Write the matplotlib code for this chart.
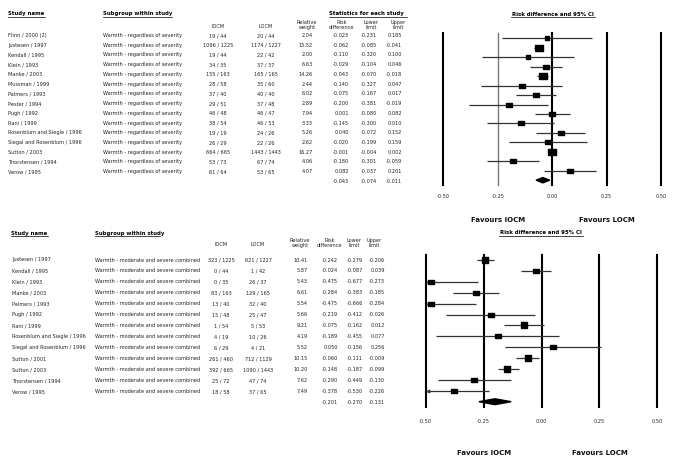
import matplotlib.pyplot as plt
import numpy as np

W, H = 685, 463

# Panel 1: warmth - regardless of severity
top_names = ["Flinn / 2000 (2)", "Justesen / 1997", "Kendall / 1995", "Klein / 1993",
             "Manke / 2003", "Mussman / 1999", "Palmers / 1993", "Pester / 1994",
             "Pugh / 1992", "Rani / 1999", "Rosenblum and Siegle / 1996",
             "Siegal and Rosenblum / 1996", "Sutton / 2003", "Thorstensen / 1994",
             "Verow / 1995"]
top_group = "Warmth - regardless of severity"
top_iocm = ["19 / 44", "1096 / 1225", "19 / 44", "34 / 35", "155 / 163", "28 / 58",
            "37 / 40", "29 / 51", "46 / 48", "38 / 54", "19 / 19", "26 / 29",
            "664 / 665", "53 / 73", "61 / 64"]
top_locm = ["20 / 44", "1174 / 1227", "22 / 42", "37 / 37", "165 / 165", "35 / 60",
            "40 / 40", "37 / 48", "46 / 47", "46 / 53", "24 / 26", "22 / 26",
            "1443 / 1443", "67 / 74", "53 / 65"]
top_weight = [2.04, 15.52, 2.00, 6.63, 14.26, 2.44, 6.02, 2.89, 7.94, 3.33, 5.26, 2.62,
              16.27, 4.06, 4.07]
top_rd = [-0.023, -0.062, -0.110, -0.029, -0.043, -0.140, -0.075, -0.200, 0.001,
          -0.145, 0.040, -0.020, -0.001, -0.180, 0.082]
top_lower = [-0.231, -0.085, -0.320, -0.104, -0.070, -0.327, -0.167, -0.381, -0.080,
             -0.300, -0.072, -0.199, -0.004, -0.301, -0.037]
top_upper = [0.185, -0.041, 0.100, 0.046, -0.018, 0.047, 0.017, -0.019, 0.082,
             0.010, 0.152, 0.159, 0.002, -0.059, 0.201]
top_summary = [-0.043, -0.074, -0.011]

# Panel 2: warmth - moderate and severe combined
bot_names = ["Justesen / 1997", "Kendall / 1995", "Klein / 1993", "Manke / 2003",
             "Palmers / 1993", "Pugh / 1992", "Rani / 1999",
             "Rosenblum and Siegle / 1996", "Siegal and Rosenblum / 1996",
             "Sutton / 2001", "Sutton / 2003", "Thorstensen / 1994", "Verow / 1995"]
bot_group = "Warmth - moderate and severe combined"
bot_iocm = ["323 / 1225", "0 / 44", "0 / 35", "83 / 163", "13 / 40", "15 / 48", "1 / 54",
            "4 / 19", "6 / 29", "261 / 460", "392 / 665", "25 / 72", "18 / 58"]
bot_locm = ["621 / 1227", "1 / 42", "26 / 37", "129 / 165", "32 / 40", "25 / 47", "5 / 53",
            "10 / 26", "4 / 21", "712 / 1129", "1090 / 1443", "47 / 74", "37 / 65"]
bot_weight = [10.41, 5.87, 5.43, 6.61, 5.54, 5.66, 9.21, 4.19, 5.52, 10.15, 10.20, 7.62, 7.49]
bot_rd = [-0.242, -0.024, -0.475, -0.284, -0.475, -0.219, -0.075, -0.189, 0.050,
          -0.060, -0.148, -0.290, -0.378]
bot_lower = [-0.279, -0.087, -0.677, -0.383, -0.666, -0.412, -0.162, -0.455, -0.156,
             -0.111, -0.187, -0.449, -0.530]
bot_upper = [-0.206, 0.039, -0.273, -0.185, -0.284, -0.026, 0.012, 0.077, 0.256,
             -0.009, -0.099, -0.130, -0.226]
bot_summary = [-0.201, -0.270, -0.131]

ticks = [-0.5, -0.25, 0.0, 0.25, 0.5]
tick_labels = ["-0.50", "-0.25", "0.00", "0.25", "0.50"]

fig = plt.figure(figsize=(W / 100, H / 100), dpi=100)
canvas = fig.add_axes([0, 0, 1, 1])
canvas.set_xlim(0, W)
canvas.set_ylim(H, 0)
canvas.axis("off")

FS = 3.6
TXT = "#222222"
rect = [(-1.25, -1), (1.25, -1), (1.25, 1), (-1.25, 1), (-1.25, -1)]


def px_axes(x0, x1, y0, y1):
    return fig.add_axes([x0 / W, 1 - y1 / H, (x1 - x0) / W, (y1 - y0) / H])


def underline_text(x, y, s, x2):
    canvas.text(x, y, s, fontsize=FS + 0.3, fontweight="bold", va="center", ha="left")
    canvas.plot([x, x2], [y + 3, y + 3], color="black", lw=0.5)


def table(names, group, iocm, locm, weight, rd, lo, hi, summ, cfg):
    y0, dy = cfg["row0"], cfg["dy"]
    hy = cfg["head"]
    cx = cfg["cols"]
    kw = dict(fontsize=FS, va="center", color=TXT)
    canvas.text(cx["iocm"], hy + 2, "IOCM", ha="center", **kw)
    canvas.text(cx["locm"], hy + 2, "LOCM", ha="center", **kw)
    for key, lab in [("w", "Relative\nweight"), ("rd", "Risk\ndifference"),
                     ("lo", "Lower\nlimit"), ("hi", "Upper\nlimit")]:
        canvas.text(cx[key + "h"], hy, lab, ha="center", linespacing=1.0, **kw)
    for i, name in enumerate(names):
        y = y0 + i * dy
        canvas.text(cx["name"], y, name, **kw)
        canvas.text(cx["group"], y, group, **kw)
        canvas.text(cx["iocm"], y, iocm[i], ha="center", **kw)
        canvas.text(cx["locm"], y, locm[i], ha="center", **kw)
        canvas.text(cx["w"], y, "%.2f" % weight[i], ha="right", **kw)
        canvas.text(cx["rd"], y, "%.3f" % rd[i], ha="right", **kw)
        canvas.text(cx["lo"], y, "%.3f" % lo[i], ha="right", **kw)
        canvas.text(cx["hi"], y, "%.3f" % hi[i], ha="right", **kw)
    y = y0 + len(names) * dy
    canvas.text(cx["rd"], y, "%.3f" % summ[0], ha="right", **kw)
    canvas.text(cx["lo"], y, "%.3f" % summ[1], ha="right", **kw)
    canvas.text(cx["hi"], y, "%.3f" % summ[2], ha="right", **kw)


def forest(rd, lo, hi, weight, summ, cfg):
    x0, x1, ytop, ybot = cfg["box"]
    r0, dr = cfg["prow0"], cfg["pdy"]
    ax = px_axes(x0, x1, ytop, ybot)
    ax.set_xlim(-0.5, 0.5)
    ax.set_ylim((ybot - r0) / dr, (ytop - r0) / dr)
    for s in ax.spines.values():
        s.set_visible(False)
    ax.set_yticks([])
    ax.set_xticks(ticks, tick_labels, fontsize=3.6, color=TXT)
    ax.tick_params(axis="x", length=0, pad=cfg["pad"])
    ax.patch.set_alpha(0)
    for t in ticks:
        gray = cfg["gray_mid"] and t == -0.25
        ax.axvline(t, color="#777777" if gray else "black", lw=1.0 if gray else 1.5,
                   clip_on=False, zorder=1)
    rows = np.arange(len(rd))
    lo_c = np.clip(lo, -0.5, 0.5)
    hi_c = np.clip(hi, -0.5, 0.5)
    ax.hlines(rows, lo_c, hi_c, color="#333333", lw=0.9, zorder=2)
    for i in rows:
        ms = (4.5 + 0.22 * weight[i]) / 1.39
        ax.plot(rd[i], i, marker=rect, ms=ms, color="black", zorder=3)
        if lo[i] < -0.5:
            ax.plot(-0.49, i, marker="<", ms=2, color="#444444", zorder=2, clip_on=False)
    s = len(rd)
    h = cfg["dh"]
    ax.fill([summ[1], summ[0], summ[2], summ[0]], [s, s - h, s, s + h], color="black",
            zorder=3, clip_on=False)
    for xv, lab in [(-0.25, "Favours IOCM"), (0.25, "Favours LOCM")]:
        ax.text(xv, cfg["fav"], lab, fontsize=5.0, fontweight="bold", color="#111111",
                ha="center", va="center", transform=ax.get_xaxis_transform())
    return ax


# ---- top panel ----
underline_text(8, 14, "Study name", 45)
underline_text(103, 14, "Subgroup within study", 172)
underline_text(329, 14, "Statistics for each study", 407)
canvas.text(553, 14, "Risk difference and 95% CI", fontsize=FS + 0.3, fontweight="bold",
            ha="center", va="center")
canvas.plot([511, 595], [17, 17], color="black", lw=0.5)

top_cfg = dict(row0=35.5, dy=9.73, head=25,
               cols=dict(name=8, group=103, iocm=218, locm=266, w=313, rd=349, lo=377,
                         hi=402, wh=307, rdh=342, loh=371, hih=398))
table(top_names, top_group, top_iocm, top_locm, top_weight, top_rd, top_lower, top_upper,
      top_summary, top_cfg)
forest(top_rd, top_lower, top_upper, top_weight, top_summary,
       dict(box=(443.3, 661, 33.3, 185), prow0=38.3, pdy=9.46, pad=6.5, gray_mid=True,
            dh=0.28, fav=-0.23))

# ---- bottom panel ----
underline_text(11, 233, "Study name", 48)
underline_text(95, 233, "Subgroup within study", 160)
canvas.text(541, 233, "Risk difference and 95% CI", fontsize=FS + 0.3, fontweight="bold",
            ha="center", va="center")
canvas.plot([499, 583], [236, 236], color="black", lw=0.5)

bot_cfg = dict(row0=260, dy=10.97, head=243,
               cols=dict(name=12, group=95, iocm=221, locm=258, w=308, rd=338, lo=363,
                         hi=385, wh=300, rdh=330, loh=354, hih=374))
table(bot_names, bot_group, bot_iocm, bot_locm, bot_weight, bot_rd, bot_lower, bot_upper,
      bot_summary, bot_cfg)
forest(bot_rd, bot_lower, bot_upper, bot_weight, bot_summary,
       dict(box=(425.7, 657.3, 255, 407), prow0=260, pdy=10.9, pad=8.6, gray_mid=False,
            dh=0.27, fav=-0.30))

fig.savefig("out.png", dpi=100)
